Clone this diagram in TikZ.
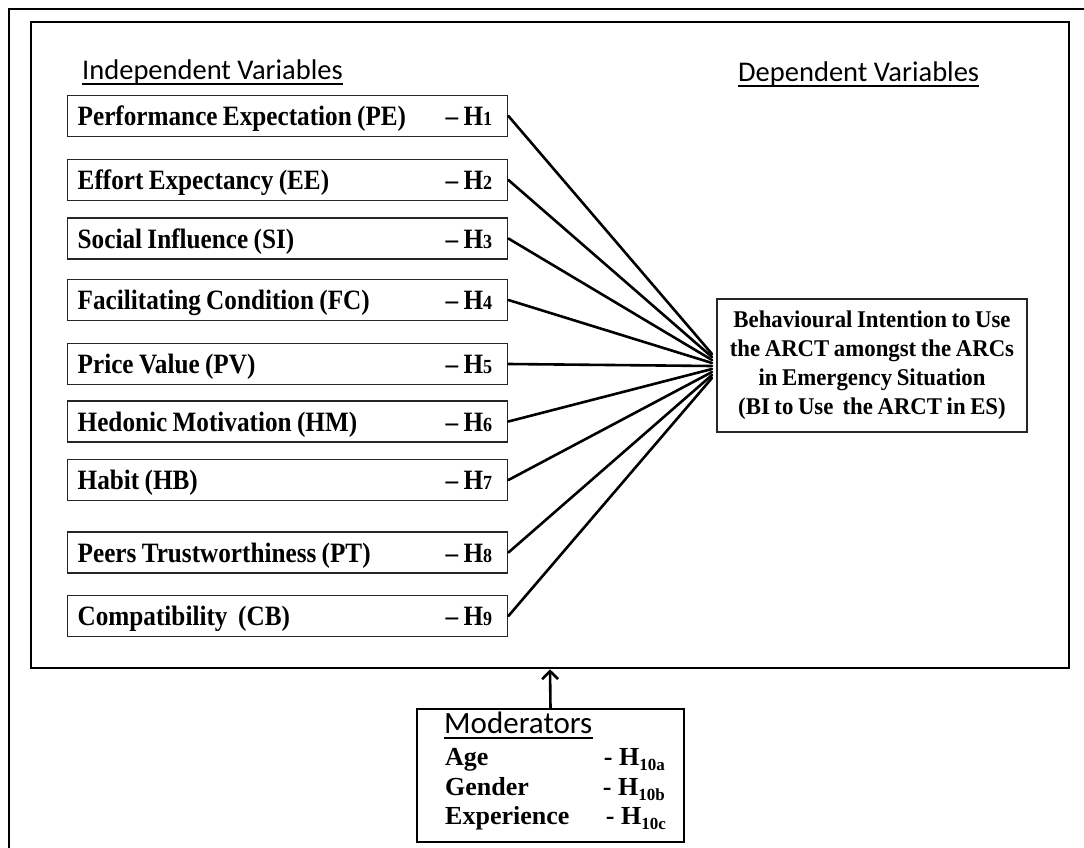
\documentclass[tikz,border=0pt]{standalone}
\usepackage{fontspec}
\setmainfont{Liberation Serif}
\newfontfamily\calfont{Carlito}
% slightly condensed serif for the variable boxes
\newfontfamily\boxfont[Ligatures=TeX, FakeStretch=0.9, WordSpace=0.85]{Liberation Serif}
\newfontfamily\depfont[Ligatures=TeX, FakeStretch=0.95, WordSpace=0.8]{Liberation Serif}
\usetikzlibrary{arrows.meta}

% small numeral after H in the hypothesis tags
\newcommand\hnum[1]{{\fontsize{20}{20}\selectfont #1}}
% lowered subscript for the moderator hypotheses
\newcommand\msub[1]{\raisebox{-5.5pt}{\fontsize{17}{17}\selectfont\bfseries #1}}

\begin{document}
\begin{tikzpicture}[x=1pt,y=-1pt,
  varbox/.style={draw=black!85, line width=1.4pt, minimum height=41pt,
    text width=420pt, inner xsep=10pt, inner ysep=0pt, align=flush left,
    text height=19pt, text depth=0pt, anchor=west,
    font=\boxfont\bfseries\fontsize{28}{30}\selectfont},
  hlabel/.style={anchor=east, inner sep=0pt, text height=19pt, text depth=0pt,
    font=\boxfont\bfseries\fontsize{28}{30}\selectfont},
  heading/.style={anchor=base west, inner sep=0pt,
    font=\calfont\fontsize{28.5}{32}\selectfont},
  modrow/.style={anchor=base west, inner sep=0pt,
    font=\bfseries\fontsize{26}{28}\selectfont},
  modtag/.style={anchor=base east, inner sep=0pt,
    font=\bfseries\fontsize{26}{28}\selectfont},
  link/.style={line width=2.6pt, line cap=round},
  rule/.style={line width=1.8pt},
]
\useasboundingbox (0,0) rectangle (1084,848);

% outer page border (runs off the right and bottom)
\draw[line width=2pt] (9,848) -- (9,9) -- (1084,9);

% inner frame around the model
\node[draw, line width=2.6pt, minimum width=1038pt, minimum height=646pt,
      inner sep=0pt] (frame) at (550,345) {};

% headings
\node[heading] (ind) at (82,80) {Independent Variables};
\draw[rule] ([yshift=-4pt]ind.base west) -- ([yshift=-4pt]ind.base east);
\node[heading] (dep) at (738,82) {Dependent Variables};
\draw[rule] ([yshift=-4pt]dep.base west) -- ([yshift=-4pt]dep.base east);

% independent variables
\node[varbox] (pe) at (67,116)   {Performance Expectation (PE)};
\node[varbox] (ee) at (67,180)   {Effort Expectancy (EE)};
\node[varbox] (si) at (67,238.5) {Social Influence (SI)};
\node[varbox] (fc) at (67,300)   {Facilitating Condition (FC)};
\node[varbox] (pv) at (67,364)   {Price Value (PV)};
\node[varbox] (hm) at (67,421.5) {Hedonic Motivation (HM)};
\node[varbox] (hb) at (67,480)   {Habit (HB)};
\node[varbox] (pt) at (67,552.5) {Peers Trustworthiness (PT)};
\node[varbox] (cb) at (67,616)   {Compatibility \ (CB)};

% hypothesis tags
\foreach \n/\k in {pe/1,ee/2,si/3,fc/4,pv/5,hm/6,hb/7,pt/8,cb/9}
  \node[hlabel] (h\k) at ([xshift=-16pt]\n.east) {\textendash\ H\hnum{\k}};

% dependent variable
\node[draw=black!85, line width=1.4pt, minimum width=310pt, minimum height=133pt,
      align=center, font=\depfont\bfseries\fontsize{24}{29}\selectfont] (bi) at (872,365.5)
  {Behavioural Intention to Use\\the ARCT amongst the ARCs\\in Emergency Situation\\(BI to Use\ \ the ARCT in ES)};

% converging paths
\foreach \n [count=\i] in {pe,ee,si,fc,pv,hm,hb,pt,cb}{
  \coordinate (tip\i) at (712,{351+3*\i});
  \draw[link] (\n.east) -- (tip\i);
}

% moderators
\node[draw, line width=2pt, minimum width=267pt, minimum height=133pt,
      inner sep=0pt] (mod) at (550.5,775.5) {};
\node[heading, font=\calfont\fontsize{31}{34}\selectfont] (modh) at (444,733) {Moderators};
\draw[rule] ([yshift=-5pt]modh.base west) -- ([yshift=-5pt]modh.base east);
\node[modrow] (age) at (445,765) {Age};
\node[modrow] (gen) at (445,795) {Gender};
\node[modrow] (exp) at (445,824) {Experience};
\node[modtag] (ha) at (665,765) {- H\msub{10a}};
\node[modtag] (hbb) at (665,795) {- H\msub{10b}};
\node[modtag] (hc) at (666,824) {- H\msub{10c}};

\draw[line width=2.6pt, -{Straight Barb[length=8pt,width=16pt]}] (mod.north) -- (frame.south);
\end{tikzpicture}
\end{document}
